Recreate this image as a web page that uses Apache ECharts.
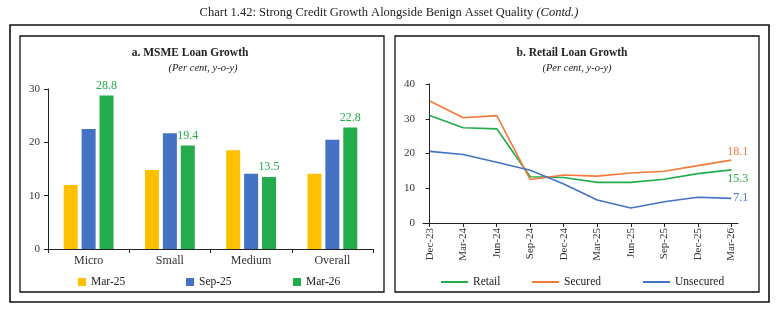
<!DOCTYPE html>
<html>
<head>
<meta charset="utf-8">
<script src="https://cdn.jsdelivr.net/npm/echarts@6/dist/echarts.min.js"></script>
<style>
  html, body { margin: 0; padding: 0; background: #fff; }
  #chart { width: 778px; height: 312px; }
</style>
</head>
<body>
<div id="chart"></div>
<script>
// panel a: MSME loan growth
const msmeCategories = ["Micro", "Small", "Medium", "Overall"];
const msmeMar25 = [12.0, 14.8, 18.5, 14.1];
const msmeSep25 = [22.5, 21.7, 14.1, 20.5];
const msmeMar26 = [28.8, 19.4, 13.5, 22.8];

// panel b: retail loan growth
const retailQuarters = ["Dec-23", "Mar-24", "Jun-24", "Sep-24", "Dec-24", "Mar-25", "Jun-25", "Sep-25", "Dec-25", "Mar-26"];
const retailTotal = [30.9, 27.4, 27.1, 13.3, 13.1, 11.7, 11.7, 12.6, 14.2, 15.3];
const retailSecured = [35.1, 30.3, 30.9, 12.5, 13.8, 13.5, 14.4, 14.9, 16.5, 18.1];
const retailUnsecured = [20.6, 19.7, 17.5, 15.2, 11.2, 6.6, 4.3, 6.1, 7.4, 7.1];

const FONT = "Liberation Serif";
const YELLOW = "#FFC000", BLUE = "#4472C4", GREEN = "#22AC4C", ORANGE = "#F07A3A";

const chart = echarts.init(document.getElementById("chart"));

function pairs(arr) {
    return arr.map((v, i) => [i, v]);
}

function lastLabel(color, offset) {
    return {
        show: true,
        color: color,
        fontFamily: FONT,
        fontSize: 12,
        distance: 2,
        offset: offset,
        formatter: p => p.value[1].toFixed(1)
    };
}

const axisLineStyle = { lineStyle: { color: "#222", width: 1 } };
const axisLabelBase = { color: "#333", fontFamily: FONT, fontSize: 11 };

function legendItem(name, left, icon, w, h) {
    return {
        data: [name], left: left, top: 271, icon: icon,
        itemWidth: w, itemHeight: h, selectedMode: false,
        textStyle: { fontFamily: FONT, fontSize: 11.5, color: "#222" }
    };
}

const option = {
    animation: false,
    textStyle: { fontFamily: FONT },
    graphic: [
        { type: "rect", shape: { x: 10, y: 25, width: 759, height: 277 }, style: { fill: "none", stroke: "#111", lineWidth: 1.6 } },
        { type: "rect", shape: { x: 20, y: 36, width: 364, height: 256 }, style: { fill: "none", stroke: "#111", lineWidth: 1.3 } },
        { type: "rect", shape: { x: 395, y: 36, width: 364, height: 256 }, style: { fill: "none", stroke: "#111", lineWidth: 1.3 } },
        {
            type: "text", left: "center", top: 6,
            style: {
                text: "{n|Chart 1.42: Strong Credit Growth Alongside Benign Asset Quality }{i|(Contd.)}",
                rich: {
                    n: { fontFamily: FONT, fontSize: 12.5, fill: "#222" },
                    i: { fontFamily: FONT, fontSize: 12.5, fontStyle: "italic", fill: "#222" }
                }
            }
        },
        { type: "text", x: 190, y: 47, style: { text: "a. MSME Loan Growth", align: "center", fontFamily: FONT, fontSize: 11.5, fontWeight: "bold", fill: "#222" } },
        { type: "text", x: 203, y: 63, style: { text: "(Per cent, y-o-y)", align: "center", fontFamily: FONT, fontSize: 10.5, fontStyle: "italic", fill: "#222" } },
        { type: "text", x: 572, y: 47, style: { text: "b. Retail Loan Growth", align: "center", fontFamily: FONT, fontSize: 11.5, fontWeight: "bold", fill: "#222" } },
        { type: "text", x: 577, y: 63, style: { text: "(Per cent, y-o-y)", align: "center", fontFamily: FONT, fontSize: 10.5, fontStyle: "italic", fill: "#222" } }
    ],
    legend: [
        legendItem("Mar-25", 73, "rect", 8, 8),
        legendItem("Sep-25", 181, "rect", 8, 8),
        legendItem("Mar-26", 288, "rect", 8, 8),
        legendItem("Retail", 436, "rect", 27, 2),
        legendItem("Secured", 527, "rect", 27, 2),
        legendItem("Unsecured", 638, "rect", 27, 2)
    ],
    grid: [
        { left: 48, right: 405, top: 89, bottom: 63 },
        { left: 423, right: 40, top: 84, bottom: 89 }
    ],
    xAxis: [
        {
            gridIndex: 0, type: "category", data: msmeCategories,
            axisLine: axisLineStyle,
            axisTick: { show: true, length: 4, lineStyle: { color: "#222" } },
            axisLabel: Object.assign({}, axisLabelBase, { fontSize: 12, margin: 6 })
        },
        {
            gridIndex: 1, type: "value", min: -0.2, max: 9.2,
            splitLine: { show: false },
            axisLine: axisLineStyle,
            axisTick: { show: true, length: 4, lineStyle: { color: "#222" }, customValues: retailQuarters.map((q, i) => i) },
            axisLabel: Object.assign({}, axisLabelBase, {
                rotate: 90, margin: 5,
                customValues: retailQuarters.map((q, i) => i),
                formatter: v => retailQuarters[Math.round(v)]
            })
        }
    ],
    yAxis: [
        {
            gridIndex: 0, type: "value", min: 0, max: 30, interval: 10,
            splitLine: { show: false },
            axisLine: Object.assign({ show: true }, axisLineStyle),
            axisTick: { show: true, length: 4, lineStyle: { color: "#222" } },
            axisLabel: Object.assign({}, axisLabelBase, { margin: 8 })
        },
        {
            gridIndex: 1, type: "value", min: 0, max: 40, interval: 10,
            splitLine: { show: false },
            axisLine: Object.assign({ show: true }, axisLineStyle),
            axisTick: { show: true, length: 4, lineStyle: { color: "#222" } },
            axisLabel: Object.assign({}, axisLabelBase, { margin: 8 })
        }
    ],
    series: [
        { name: "Mar-25", type: "bar", xAxisIndex: 0, yAxisIndex: 0, data: msmeMar25, barWidth: 14, barGap: "28%", itemStyle: { color: YELLOW } },
        { name: "Sep-25", type: "bar", xAxisIndex: 0, yAxisIndex: 0, data: msmeSep25, barWidth: 14, barGap: "28%", itemStyle: { color: BLUE } },
        {
            name: "Mar-26", type: "bar", xAxisIndex: 0, yAxisIndex: 0, data: msmeMar26, barWidth: 14, barGap: "28%", itemStyle: { color: GREEN },
            label: { show: true, position: "top", distance: 4, color: GREEN, fontFamily: FONT, fontSize: 12, formatter: p => p.value.toFixed(1) }
        },
        {
            name: "Retail", type: "line", xAxisIndex: 1, yAxisIndex: 1, data: pairs(retailTotal),
            symbol: "none", lineStyle: { color: GREEN, width: 1.6 }, itemStyle: { color: GREEN },
            endLabel: lastLabel(GREEN, [-6, 9])
        },
        {
            name: "Secured", type: "line", xAxisIndex: 1, yAxisIndex: 1, data: pairs(retailSecured),
            symbol: "none", lineStyle: { color: ORANGE, width: 1.6 }, itemStyle: { color: ORANGE },
            endLabel: lastLabel(ORANGE, [-6, -8])
        },
        {
            name: "Unsecured", type: "line", xAxisIndex: 1, yAxisIndex: 1, data: pairs(retailUnsecured),
            symbol: "none", lineStyle: { color: BLUE, width: 1.6 }, itemStyle: { color: BLUE },
            endLabel: lastLabel(BLUE, [0, 0])
        }
    ]
};

chart.setOption(option);
</script>
</body>
</html>
